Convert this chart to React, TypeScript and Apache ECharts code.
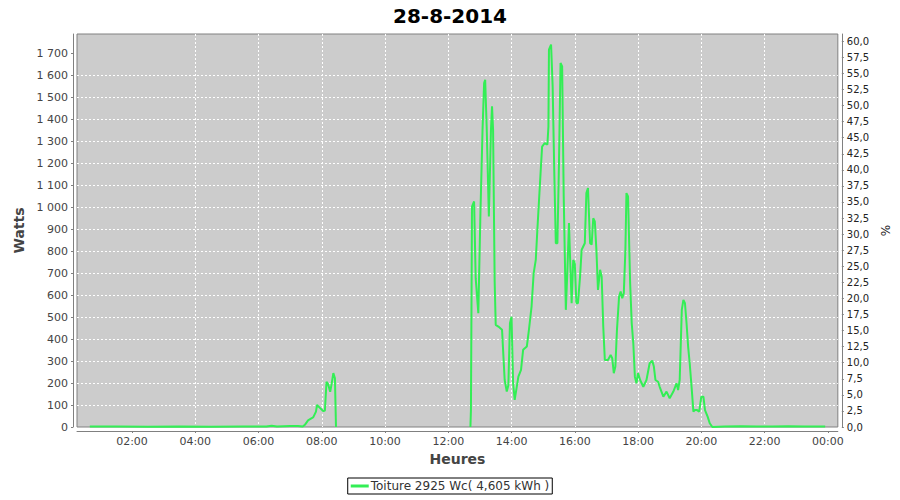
import React, { useEffect, useRef } from "react";
import * as echarts from "echarts";

const titleText = "28-8-2014";
const seriesName = "Toiture 2925 Wc( 4,605 kWh )";
const peakWc = 2925;

const xTickLabels = ["02:00", "04:00", "06:00", "08:00", "10:00", "12:00", "14:00", "16:00", "18:00", "20:00", "22:00", "00:00"];
const yTickValues = [0, 100, 200, 300, 400, 500, 600, 700, 800, 900, 1000, 1100, 1200, 1300, 1400, 1500, 1600, 1700];
const pctTickValues = [0, 2.5, 5, 7.5, 10, 12.5, 15, 17.5, 20, 22.5, 25, 27.5, 30, 32.5, 35, 37.5, 40, 42.5, 45, 47.5, 50, 52.5, 55, 57.5, 60];

const times = [
  "00:40", "01:30", "02:30", "03:30", "04:30", "05:30", "06:15", "06:25", "06:35", "07:00", "07:15", "07:24",
  "07:28", "07:34", "07:41", "07:44", "07:49", "07:51", "07:57", "08:03", "08:06", "08:09", "08:12", "08:16",
  "08:19", "08:22", "08:25", "08:27", "08:30", "12:40",
  "12:42", "12:43", "12:45", "12:49", "12:52", "12:57", "13:01", "13:05", "13:08", "13:10", "13:13", "13:17",
  "13:21", "13:23", "13:25", "13:28", "13:30", "13:35", "13:42", "13:47", "13:51", "13:54", "13:57", "14:00",
  "14:03", "14:06", "14:13", "14:18", "14:22", "14:29", "14:33", "14:38", "14:42", "14:46", "14:49", "14:54",
  "14:58", "15:03", "15:08", "15:10", "15:11", "15:15", "15:18", "15:21", "15:24", "15:27", "15:30", "15:33",
  "15:36", "15:39", "15:43", "15:46", "15:49", "15:51", "15:54", "15:57", "16:00", "16:03", "16:06", "16:10",
  "16:13", "16:16", "16:19", "16:22", "16:25", "16:29", "16:32", "16:35", "16:38", "16:41", "16:44", "16:48",
  "16:51", "16:54", "16:57", "17:03", "17:08", "17:11", "17:14", "17:17", "17:20", "17:24", "17:27", "17:30",
  "17:33", "17:36", "17:38", "17:41", "17:45", "17:48", "17:51", "17:54", "17:57", "18:00", "18:04", "18:10",
  "18:16", "18:22", "18:27", "18:30", "18:33", "18:38", "18:41", "18:48", "18:54", "19:00", "19:07", "19:13",
  "19:16", "19:19", "19:23", "19:26", "19:29", "19:32", "19:35", "19:38", "19:42", "19:45", "19:48", "19:52",
  "19:56", "20:00", "20:04", "20:07", "20:12", "20:16", "20:21", "20:45", "21:15", "21:45", "22:15", "22:45",
  "23:15", "23:55",
];

const watts: (number | null)[] = [
  2, 2, 1, 2, 1, 2, 2, 6, 2, 4, 5, 2,
  10, 30, 40, 45, 70, 100, 86, 72, 75, 206, 195, 160,
  200, 245, 222, 0, null, null,
  0, 77, 1003, 1026, 677, 518, 973, 1352, 1565, 1580, 1352, 958,
  1352, 1459, 1352, 662, 465, 457, 442, 214, 161, 190, 472, 502,
  199, 123, 229, 260, 351, 366, 442, 548, 700, 760, 897, 1110,
  1276, 1292, 1284, 1367, 1717, 1740, 1550, 1170, 836, 836, 1200, 1656,
  1641, 1049, 533, 715, 928, 776, 563, 760, 745, 563, 563, 684,
  806, 821, 836, 1064, 1087, 836, 830, 950, 935, 806, 624, 715,
  684, 457, 305, 305, 328, 313, 245, 275, 442, 593, 616, 586,
  609, 806, 1064, 1049, 654, 472, 381, 229, 199, 245, 214, 183,
  214, 290, 302, 275, 214, 206, 183, 138, 161, 131, 161, 199,
  168, 214, 533, 578, 563, 472, 366, 290, 168, 70, 77, 77,
  70, 138, 138, 77, 47, 17, 0, 2, 3, 2, 2, 3,
  2, 2,
];

const FONT = "DejaVu Sans";
const toUnits = (t: string) => {
  const [h, m] = t.split(":").map(Number);
  return (h * 60 + m) / 120;
};

export default function App() {
  const ref = useRef<HTMLDivElement>(null);
  useEffect(() => {
    if (!ref.current) return;
    const chart = echarts.init(ref.current, null, { renderer: "svg" });
    const yMax = 1788;
    const data = times.map((t, i) => [toUnits(t), watts[i]]);
    const xTickValues = xTickLabels.map((_, i) => i + 1);
    const gridLine = {
      show: true,
      showMinLine: false,
      showMaxLine: false,
      lineStyle: { color: "#ffffff", type: [2, 2], width: 1 },
    };
    chart.setOption({
      animation: false,
      backgroundColor: "#ffffff",
      textStyle: { fontFamily: FONT },
      title: {
        text: titleText,
        left: "center",
        top: 1,
        textStyle: { fontFamily: FONT, fontSize: 20, fontWeight: "bold", color: "#000" },
      },
      legend: {
        data: [{ name: seriesName, icon: "rect" }],
        left: "center",
        top: 478,
        itemWidth: 18,
        itemHeight: 3,
        itemGap: 2,
        padding: [2, 3, 2, 3],
        borderColor: "#000",
        borderWidth: 1,
        borderRadius: 0,
        backgroundColor: "#fff",
        textStyle: { fontFamily: FONT, fontSize: 12, color: "#333", padding: [0, 0, 0, -3] },
      },
      grid: {
        left: 77,
        right: 62,
        top: 34,
        bottom: 73,
        show: true,
        backgroundColor: "#cccccc",
        borderColor: "#808080",
        borderWidth: 1,
      },
      xAxis: {
        type: "value",
        min: 15.7 / 120,
        max: 1459 / 120,
        splitNumber: 12,
        minInterval: 1,
        maxInterval: 1,
        offset: 4,
        name: "Heures",
        nameLocation: "middle",
        nameGap: 21,
        nameTextStyle: { fontFamily: FONT, fontSize: 14, fontWeight: "bold", color: "#444" },
        axisLine: { show: true, onZero: false, lineStyle: { color: "#808080" } },
        axisTick: { show: true, inside: false, length: 2, customValues: xTickValues, lineStyle: { color: "#808080" } },
        axisLabel: {
          fontFamily: FONT,
          fontSize: 11,
          color: "#444",
          margin: 5,
          customValues: xTickValues,
          formatter: (v: number) => {
            const r = Math.round(v);
            if (Math.abs(v - r) > 1e-6 || r < 1 || r > 12) return "";
            return xTickLabels[r - 1];
          },
        },
        splitLine: gridLine,
      },
      yAxis: [
        {
          type: "value",
          min: 0,
          max: yMax,
          interval: 100,
          offset: 4,
          name: "Watts",
          nameLocation: "middle",
          nameGap: 46,
          nameTextStyle: { fontFamily: FONT, fontSize: 14, fontWeight: "bold", color: "#444" },
          axisLine: { show: true, lineStyle: { color: "#808080" } },
          axisTick: { show: true, length: 2, customValues: yTickValues, lineStyle: { color: "#808080" } },
          axisLabel: {
            fontFamily: FONT,
            fontSize: 11,
            color: "#444",
            margin: 5,
            customValues: yTickValues,
            formatter: (v: number) => {
              if (v % 100 !== 0) return "";
              return String(v).replace(/\B(?=(\d{3})+(?!\d))/g, " ");
            },
          },
          splitLine: gridLine,
        },
        {
          type: "value",
          position: "right",
          min: 0,
          max: (yMax / peakWc) * 100,
          interval: 2.5,
          offset: 4,
          name: "%",
          nameLocation: "middle",
          nameGap: 36,
          nameTextStyle: { fontFamily: FONT, fontSize: 12, color: "#222" },
          axisLine: { show: true, lineStyle: { color: "#808080" } },
          axisTick: { show: true, length: 2, customValues: pctTickValues, lineStyle: { color: "#808080" } },
          axisLabel: {
            fontFamily: FONT,
            fontSize: 10,
            color: "#222",
            margin: 5,
            customValues: pctTickValues,
            formatter: (v: number) => {
              const k = v / 2.5;
              if (Math.abs(k - Math.round(k)) > 1e-6) return "";
              return v.toFixed(1).replace(".", ",");
            },
          },
          splitLine: { show: false },
        },
      ],
      series: [
        {
          name: seriesName,
          type: "line",
          data,
          showSymbol: false,
          connectNulls: false,
          lineStyle: { color: "#33ee55", width: 2 },
          itemStyle: { color: "#33ee55" },
          z: 3,
        },
      ],
    });
    return () => chart.dispose();
  }, []);
  return <div ref={ref} style={{ position: "fixed", left: 0, top: 0, width: 900, height: 500 }} />;
}
